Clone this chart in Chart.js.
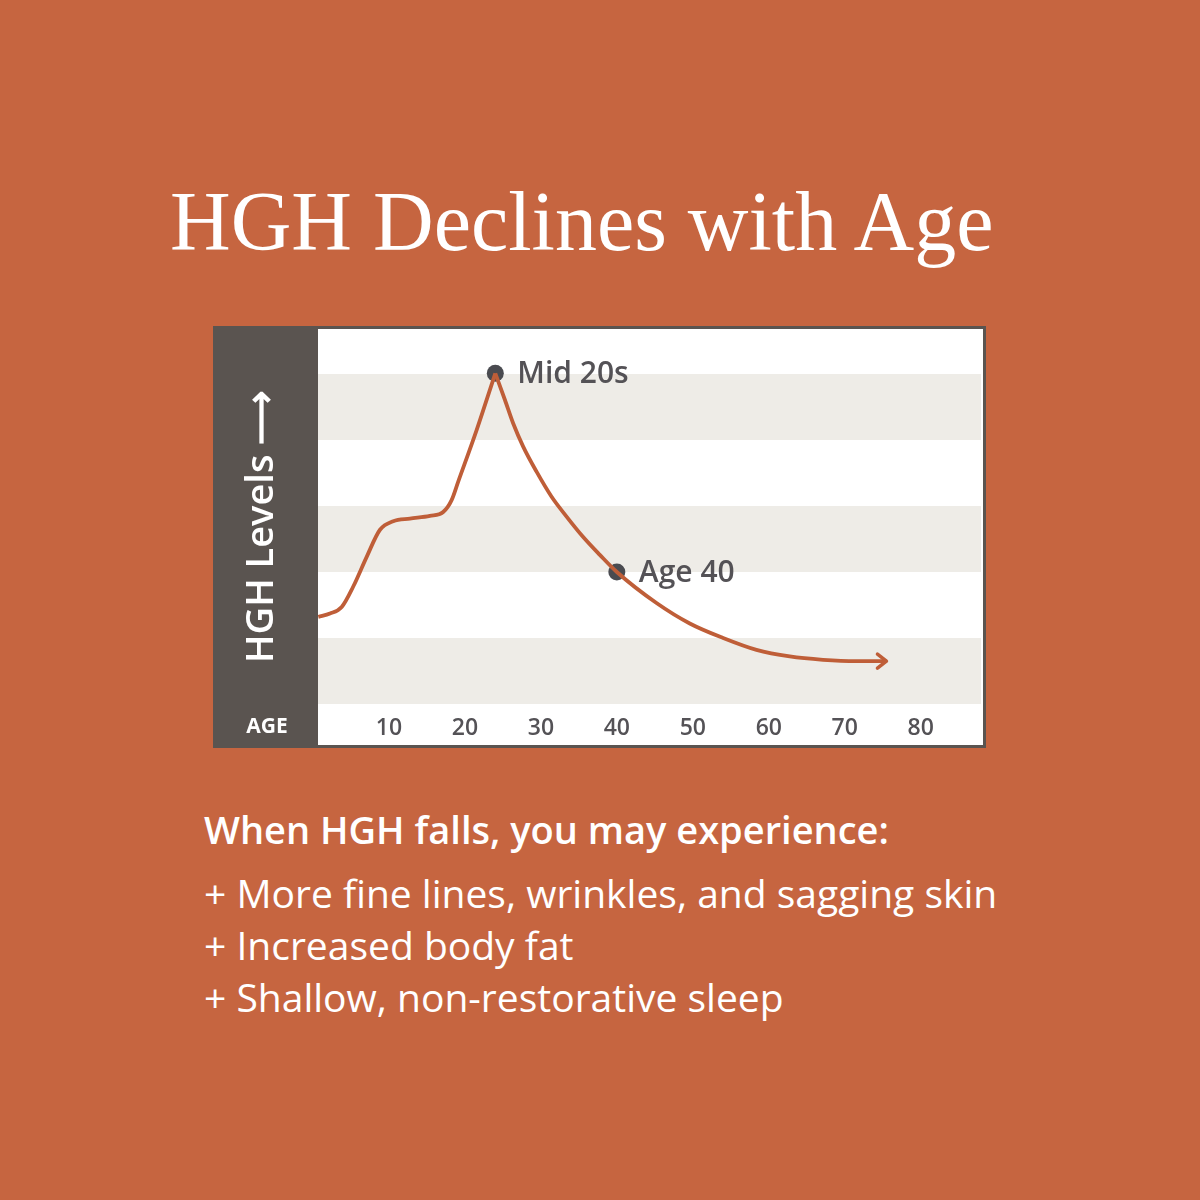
<!DOCTYPE html>
<html>
<head>
<meta charset="utf-8">
<script src="https://cdn.jsdelivr.net/npm/chart.js@4"></script>
<style>
  html, body { margin: 0; padding: 0; }
  body { width: 1200px; height: 1200px; background: #c66540; position: relative; overflow: hidden; }
  #title { position: absolute; left: 170px; top: 172px; white-space: nowrap;
    font-family: "Liberation Serif", serif; font-size: 84px; line-height: 100px; color: #fff; }
  #box { position: absolute; left: 213px; top: 326px; width: 767px; height: 416px; border: 3px solid #5a5450; }
  #box canvas { display: block; }
  #notes { position: absolute; left: 204px; top: 803px; color: #fff; font-family: "Open Sans", sans-serif; white-space: nowrap; }
  #notes .head { font-size: 38px; font-weight: 600; line-height: 52px; margin-bottom: 12px; }
  #notes .item { font-size: 39px; font-weight: 400; line-height: 52px; }
</style>
</head>
<body>
<div id="title">HGH Declines with Age</div>
<div id="box"><canvas id="chart" width="767" height="416"></canvas></div>
<div id="notes">
  <div class="head">When HGH falls, you may experience:</div>
  <div class="item">+ More fine lines, wrinkles, and sagging skin</div>
  <div class="item">+ Increased body fat</div>
  <div class="item">+ Shallow, non-restorative sleep</div>
</div>
<script>
// curve up to the peak, and down from it (kept apart so the peak stays sharp)
const riseAge = [0.7, 2.24, 3.78, 5.3, 7.07, 8.82, 10.57, 12.76, 15.39, 17.14, 18.25, 19.12, 21.54, 24.0];
const riseLevel = [1.32, 1.37, 1.47, 1.78, 2.23, 2.64, 2.77, 2.81, 2.85, 2.91, 3.09, 3.37, 4.15, 5.01];
const fallAge = [24.0, 25.26, 26.36, 27.67, 29.43, 31.41, 33.38, 35.57, 37.76, 40.0, 45.22, 49.6, 53.99, 58.38, 62.76, 67.14, 71.54, 75.49];
const fallLevel = [5.01, 4.61, 4.25, 3.90, 3.52, 3.14, 2.84, 2.53, 2.26, 2.00, 1.53, 1.22, 1.00, 0.82, 0.72, 0.67, 0.65, 0.65];

const markAge = [24.0, 40.0];
const markLevel = [5.01, 2.00];
const markLabel = ['Mid 20s', 'Age 40'];

const xTicks = [10, 20, 30, 40, 50, 60, 70, 80];
const bands = [[0, 1], [2, 3], [4, 5]];

const lineColor = '#bf5e38';
const darkPanel = '#5a5450';
const labelFont = '"Open Sans", sans-serif';

function pts(xs, ys) {
  return xs.map((x, i) => ({ x: x, y: ys[i] }));
}

function noPadding(scale) {
  scale.paddingLeft = 0;
  scale.paddingRight = 0;
  scale.paddingTop = 0;
  scale.paddingBottom = 0;
}

const backdrop = {
  id: 'backdrop',
  beforeDraw(chart) {
    const { ctx, chartArea: a, scales: { y } } = chart;
    ctx.save();
    ctx.fillStyle = '#fff';
    ctx.fillRect(0, 0, chart.width, chart.height);
    ctx.fillStyle = '#eeece7';
    bands.forEach(b => {
      const top = y.getPixelForValue(b[1]);
      const bot = y.getPixelForValue(b[0]);
      ctx.fillRect(a.left, top, a.right - a.left - 2, bot - top);
    });
    ctx.fillStyle = darkPanel;
    ctx.fillRect(0, 0, a.left, chart.height);
    ctx.restore();
  },
  afterDraw(chart) {
    const { ctx, chartArea: a } = chart;
    ctx.save();
    // AGE label in the dark panel
    ctx.fillStyle = '#fff';
    ctx.font = '700 21px ' + labelFont;
    ctx.textAlign = 'center';
    ctx.textBaseline = 'middle';
    ctx.fillText('AGE', a.left / 2, a.bottom + 23);
    // arrow head at the end of the falling curve
    const meta = chart.getDatasetMeta(1);
    const last = meta.data[meta.data.length - 1];
    ctx.strokeStyle = lineColor;
    ctx.lineWidth = 3.5;
    ctx.lineCap = 'round';
    ctx.lineJoin = 'round';
    ctx.beginPath();
    ctx.moveTo(last.x - 9, last.y - 7);
    ctx.lineTo(last.x, last.y);
    ctx.lineTo(last.x - 9, last.y + 7);
    ctx.stroke();
    // point labels
    const marks = chart.getDatasetMeta(2);
    ctx.fillStyle = '#545256';
    ctx.font = '600 30px ' + labelFont;
    ctx.textAlign = 'left';
    marks.data.forEach((p, i) => {
      ctx.fillText(markLabel[i], p.x + 22, p.y + 1);
    });
    ctx.restore();
  }
};

new Chart(document.getElementById('chart'), {
  type: 'line',
  data: {
    datasets: [
      { data: pts(riseAge, riseLevel), borderColor: lineColor, borderWidth: 3.8, cubicInterpolationMode: 'monotone', pointRadius: 0 },
      { data: pts(fallAge, fallLevel), borderColor: lineColor, borderWidth: 3.8, cubicInterpolationMode: 'monotone', pointRadius: 0 },
      { data: pts(markAge, markLevel), showLine: false, pointRadius: 8.5, pointBackgroundColor: '#4a4b50', pointBorderWidth: 0 }
    ]
  },
  options: {
    responsive: false,
    animation: false,
    events: [],
    layout: { autoPadding: false, padding: { top: 1, right: 0, bottom: 0, left: 0 } },
    plugins: { legend: { display: false }, tooltip: { enabled: false } },
    scales: {
      x: {
        type: 'linear',
        min: 0.66,
        max: 88.2,
        afterBuildTicks(scale) { scale.ticks = xTicks.map(v => ({ value: v })); },
        afterFit(scale) { scale.height = 41; noPadding(scale); },
        grid: { display: false, drawTicks: false },
        border: { display: false },
        ticks: { color: '#545256', font: { family: labelFont, size: 23, weight: '600' }, padding: 11 }
      },
      y: {
        min: 0,
        max: 374 / 66,
        afterFit(scale) { scale.width = 102; noPadding(scale); },
        grid: { display: false, drawTicks: false },
        border: { display: false },
        ticks: { display: false },
        title: {
          display: true,
          text: 'HGH Levels \u27F6\u00A0\u00A0',
          color: '#fff',
          font: { family: labelFont, size: 38, weight: '600' },
          padding: { top: 23, bottom: 0 }
        }
      }
    }
  },
  plugins: [backdrop]
});
</script>
</body>
</html>
